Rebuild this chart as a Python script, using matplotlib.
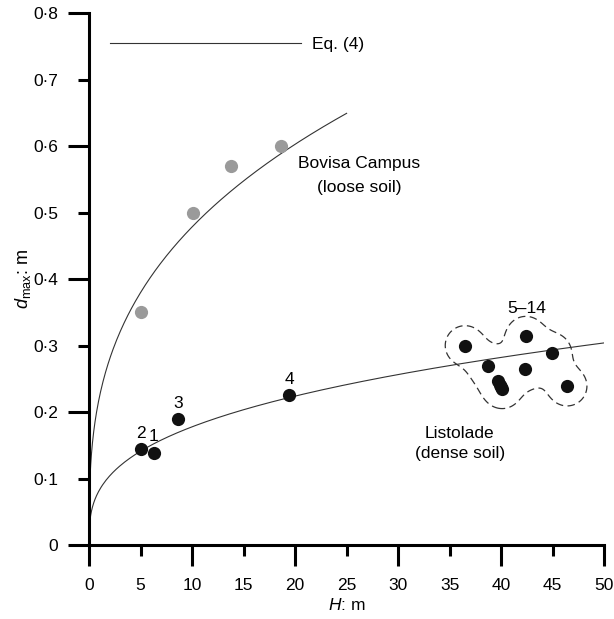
import numpy as np
import matplotlib
matplotlib.use("Agg")
import matplotlib.pyplot as plt
from matplotlib.ticker import MultipleLocator, FuncFormatter

plt.rcParams["font.family"] = ["Liberation Sans", "DejaVu Sans"]
plt.rcParams["mathtext.fontset"] = "custom"
plt.rcParams["mathtext.rm"] = "Liberation Sans"
plt.rcParams["mathtext.it"] = "Liberation Sans:italic"

# Bovisa Campus (loose soil) measurements
bovisa_h = [5.0, 10.1, 13.75, 18.6]
bovisa_d = [0.350, 0.500, 0.570, 0.600]

# Listolade (dense soil) measurements, numbered sites
listo_ids = ["1", "2", "3", "4"]
listo_h = [6.3, 5.0, 8.65, 19.45]
listo_d = [0.139, 0.144, 0.189, 0.225]

# sites 5-14, grouped
cluster_h = [36.5, 42.4, 44.9, 38.7, 42.3, 39.7, 40.0, 39.9, 40.1, 46.4]
cluster_d = [0.300, 0.314, 0.289, 0.269, 0.265, 0.246, 0.237, 0.241, 0.235, 0.239]

# Eq. (4): d_max = k * H^(1/3)
k_bovisa = 0.222
k_listo = 0.0825
h_end_bovisa = 25.0
h_end_listo = 50.0


def blur(a, sigma):
    # separable gaussian smoothing with edge padding
    n = int(3 * sigma)
    kern = np.exp(-0.5 * (np.arange(-n, n + 1) / sigma) ** 2)
    kern /= kern.sum()
    a = np.pad(a, n, mode="edge")
    a = np.apply_along_axis(lambda r: np.convolve(r, kern, mode="same"), 0, a)
    a = np.apply_along_axis(lambda r: np.convolve(r, kern, mode="same"), 1, a)
    return a[n:-n, n:-n]


fig = plt.figure(figsize=(6.14, 6.19), dpi=100)
ax = fig.add_axes([0.145, 0.1195, 0.839, 0.8595])

hb = np.concatenate([np.geomspace(0.002, 1, 80), np.linspace(1, h_end_bovisa, 200)])
hl = np.concatenate([np.geomspace(0.002, 1, 80), np.linspace(1, h_end_listo, 300)])
curve, = ax.plot(hb, k_bovisa * np.cbrt(hb), color="#333333", lw=0.8)
ax.plot(hl, k_listo * np.cbrt(hl), color="#333333", lw=0.8)

ax.plot(bovisa_h, bovisa_d, "o", color="#9a9a9a", ms=9.5, mec="none")
ax.plot(listo_h, listo_d, "o", color="#111111", ms=9.5, mec="none")
ax.plot(cluster_h, cluster_d, "o", color="#111111", ms=9.5, mec="none")

for lab, h, d in zip(listo_ids, listo_h, listo_d):
    ax.annotate(lab, (h, d), xytext=(0, 6), textcoords="offset points",
                ha="center", va="bottom", fontsize=12.5)

ax.set_xlim(0, 50)
ax.set_ylim(0, 0.8)

# dashed envelope round sites 5-14: smoothed distance (in pixels) to nearest point
bbox = ax.get_window_extent()
sx = bbox.width / 50.0
sy = bbox.height / 0.8
gh = np.arange(30.0, 52.0, 1.0 / sx)
gd = np.arange(0.15, 0.40, 1.0 / sy)
gx, gy = np.meshgrid(gh, gd)
dmin = np.full(gx.shape, np.inf)
for h, d in zip(cluster_h, cluster_d):
    dmin = np.minimum(dmin, np.hypot((gx - h) * sx, (gy - d) * sy))
ax.contour(gx, gy, blur(dmin, 8.0), levels=[21.5], colors="#333333",
           linewidths=0.9, linestyles=[(0, (6, 3.5))])
ax.text(42.5, 0.345, "5\u201314", ha="center", va="bottom", fontsize=12.5)

ax.text(26.2, 0.574, "Bovisa Campus", ha="center", va="center", fontsize=12.5)
ax.text(26.2, 0.538, "(loose soil)", ha="center", va="center", fontsize=12.5)
ax.text(36.0, 0.168, "Listolade", ha="center", va="center", fontsize=12.5)
ax.text(36.0, 0.138, "(dense soil)", ha="center", va="center", fontsize=12.5)

ax.legend([curve], ["Eq. (4)"], loc="center left", bbox_to_anchor=(0.041, 0.94),
          frameon=False, borderpad=0, borderaxespad=0, handlelength=11.0,
          handletextpad=0.6, fontsize=12.5)

for side in ("top", "right"):
    ax.spines[side].set_visible(False)
for side in ("left", "bottom"):
    ax.spines[side].set_linewidth(2.2)

ax.xaxis.set_major_locator(MultipleLocator(10))
ax.xaxis.set_minor_locator(MultipleLocator(5))
ax.yaxis.set_major_locator(MultipleLocator(0.2))
ax.yaxis.set_minor_locator(MultipleLocator(0.1))

xfmt = FuncFormatter(lambda v, _: f"{v:.0f}")
yfmt = FuncFormatter(lambda v, _: "0" if abs(v) < 1e-9 else f"{v:.1f}".replace(".", "\u00b7"))
ax.xaxis.set_major_formatter(xfmt)
ax.xaxis.set_minor_formatter(xfmt)
ax.yaxis.set_major_formatter(yfmt)
ax.yaxis.set_minor_formatter(yfmt)

ax.tick_params(axis="both", which="both", direction="out", width=2.2,
               labelsize=12.5, colors="black")
ax.tick_params(axis="y", which="major", length=15, pad=7)
ax.tick_params(axis="y", which="minor", length=8, pad=14)
ax.tick_params(axis="x", which="major", length=15, pad=9)
ax.tick_params(axis="x", which="minor", length=8, pad=16)

ax.set_xlabel("$H$: m", fontsize=12.5)
ax.set_ylabel("$d_{\\mathrm{max}}$: m", fontsize=13)
ax.xaxis.set_label_coords(0.5, -0.097)
ax.yaxis.set_label_coords(-0.108, 0.5)

fig.savefig("out.png", dpi=100)
